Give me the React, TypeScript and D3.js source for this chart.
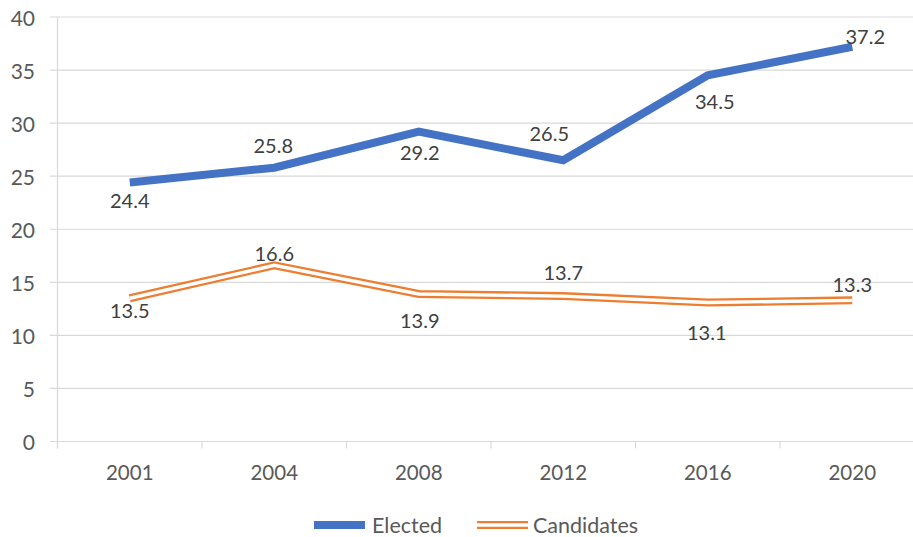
import React from "react";
import * as d3 from "d3";

const categories = ["2001", "2004", "2008", "2012", "2016", "2020"];
const elected = [24.4, 25.8, 29.2, 26.5, 34.5, 37.2];
const candidates = [13.5, 16.6, 13.9, 13.7, 13.1, 13.3];
const yTicks = [0, 5, 10, 15, 20, 25, 30, 35, 40];

// manual label offsets (dx, dy) relative to each point, as placed in the original
const electedLabelOffsets: [number, number][] = [[0, 17], [-1, -23], [1, 20], [-14, -27], [7, 26], [13, -11]];
const candidatesLabelOffsets: [number, number][] = [[0, 12], [0, -12], [1, 26], [0, -24], [-1, 30], [0, -16]];

const W = 913;
const H = 537;
const FONT = "Lato, 'Open Sans', sans-serif";

export default function App() {
  const left = 57.5;
  const right = 924.5;
  const top = 17;
  const bottom = 441.5;

  const x = d3.scaleBand<string>().domain(categories).range([left, right]);
  const y = d3.scaleLinear().domain([0, 40]).range([bottom, top]);
  const cx = (c: string) => (x(c) as number) + x.bandwidth() / 2;

  const line = d3
    .line<number>()
    .x((_, i) => cx(categories[i]))
    .y((d) => y(d));

  const eColor = "#4472C4";
  const cColor = "#ED7D31";
  const grid = "#D9D9D9";
  const boundaries = d3.range(categories.length + 1).map((i) => left + i * x.bandwidth());

  return (
    <svg width={W} height={H} style={{ position: "absolute", left: 0, top: 0, background: "#fff" }} fontFamily={FONT}>
      <rect x={0} y={0} width={W} height={H} fill="#fff" />
      {yTicks.map((t) => (
        <g key={t}>
          <line x1={50} x2={right} y1={y(t)} y2={y(t)} stroke={grid} strokeWidth={1.2} />
          <text x={35} y={y(t)} textAnchor="end" dominantBaseline="central" fontSize={21} fill="#595959">
            {t}
          </text>
        </g>
      ))}
      <line x1={left} x2={left} y1={top} y2={bottom + 7} stroke={grid} strokeWidth={1.2} />
      {boundaries.map((b, i) => (
        <line key={i} x1={b} x2={b} y1={bottom} y2={bottom + 7} stroke={grid} strokeWidth={1.2} />
      ))}
      {categories.map((c) => (
        <text key={c} x={cx(c)} y={472} textAnchor="middle" dominantBaseline="central" fontSize={20.5} fill="#595959">
          {c}
        </text>
      ))}

      <path d={line(candidates) || ""} fill="none" stroke={cColor} strokeWidth={8} strokeLinejoin="miter" />
      <path d={line(candidates) || ""} fill="none" stroke="#fff" strokeWidth={3.4} strokeLinejoin="miter" />
      <path d={line(elected) || ""} fill="none" stroke={eColor} strokeWidth={8} strokeLinejoin="miter" />

      {elected.map((v, i) => (
        <text
          key={"e" + i}
          x={cx(categories[i]) + electedLabelOffsets[i][0]}
          y={y(v) + electedLabelOffsets[i][1]}
          textAnchor="middle"
          dominantBaseline="central"
          fontSize={20}
          fill="#404040"
        >
          {v.toFixed(1)}
        </text>
      ))}
      {candidates.map((v, i) => (
        <text
          key={"c" + i}
          x={cx(categories[i]) + candidatesLabelOffsets[i][0]}
          y={y(v) + candidatesLabelOffsets[i][1]}
          textAnchor="middle"
          dominantBaseline="central"
          fontSize={20}
          fill="#404040"
        >
          {v.toFixed(1)}
        </text>
      ))}

      <g>
        <line x1={314} x2={365} y1={525} y2={525} stroke={eColor} strokeWidth={8} />
        <text x={372} y={525} dominantBaseline="central" fontSize={21.5} fill="#595959">
          Elected
        </text>
        <line x1={477} x2={528} y1={525} y2={525} stroke={cColor} strokeWidth={8} />
        <line x1={477} x2={528} y1={525} y2={525} stroke="#fff" strokeWidth={3.4} />
        <text x={533} y={525} dominantBaseline="central" fontSize={21.5} fill="#595959">
          Candidates
        </text>
      </g>
    </svg>
  );
}
